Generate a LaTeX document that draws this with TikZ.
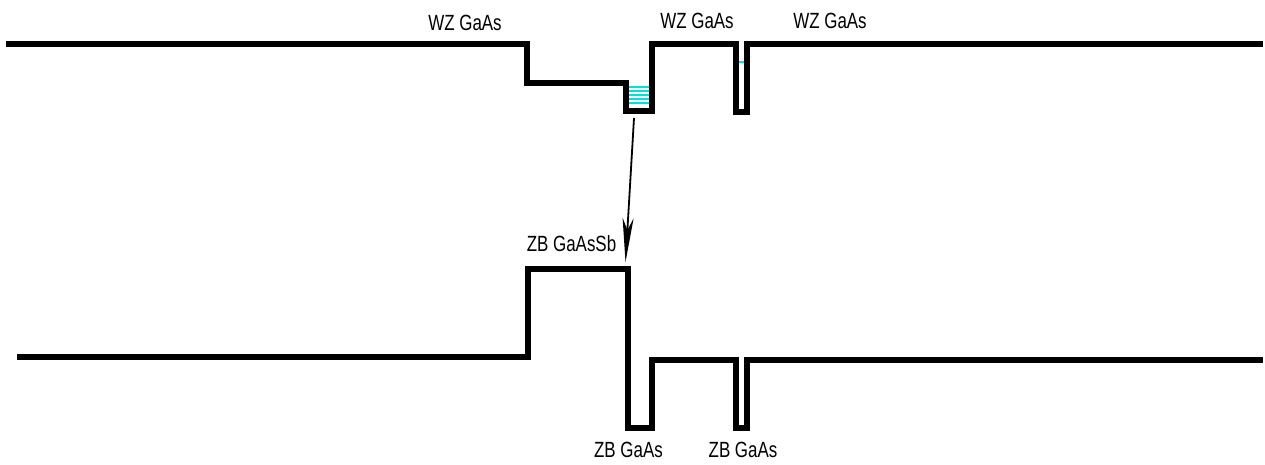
\documentclass[tikz,border=0pt]{standalone}
\usepackage{fontspec}
\setmainfont{Liberation Sans}
\newfontfamily\labfont[FakeStretch=0.77]{Liberation Sans}
\usetikzlibrary{arrows.meta}
\definecolor{levelcyan}{RGB}{0,225,215}
\begin{document}
\begin{tikzpicture}[x=1pt,y=-1pt,
  band/.style={line width=6pt,line join=miter,line cap=butt},
  state/.style={levelcyan,line width=2pt},
  lab/.style={inner sep=0pt,font=\labfont\fontsize{22pt}{24pt}\selectfont},
  conn/.style={line width=1.8pt,-{Stealth[length=44pt,width=11pt,inset=12pt]}}]
\useasboundingbox (0,0) rectangle (1265,464);
% top band (WZ)
\draw[band] (6,43.7) -- (527,43.7) -- (527,83) -- (626,83) -- (626,110.5) -- (652,110.5)
  -- (652,43.7) -- (736,43.7) -- (736,112.3) -- (747,112.3) -- (747,43.7) -- (1263,43.7);
% confined states
\foreach \yy in {87,91,95,99,103}
  \draw[state] (629,\yy) -- (649,\yy);
\draw[state] (739,62) -- (744,62);
% bottom band (ZB)
\draw[band] (17,356.5) -- (528,356.5) -- (528,268.7) -- (628,268.7) -- (628,428) -- (652,428)
  -- (652,360.3) -- (736,360.3) -- (736,428) -- (747,428) -- (747,360.3) -- (1263,360.3);
% labels
\node[lab] (wz1) at (465,23) {WZ GaAs};
\node[lab] (wz2) at (697,21) {WZ GaAs};
\node[lab] (wz3) at (830,21) {WZ GaAs};
\node[lab] (zbsb) at (571.5,243.5) {ZB GaAsSb};
\node[lab] (zb1) at (628.5,450) {ZB GaAs};
\node[lab] (zb2) at (743,450) {ZB GaAs};
% arrow
\coordinate (from) at (634,118);
\coordinate (to) at (625.5,262);
\draw[conn] (from) -- (to);
\end{tikzpicture}
\end{document}
